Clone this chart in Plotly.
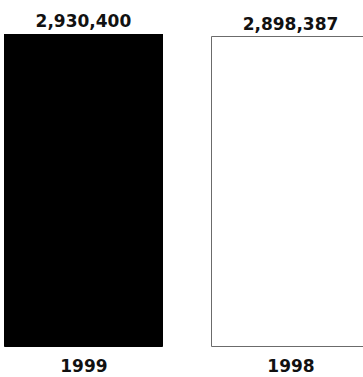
import plotly.graph_objects as go

years = ["1999", "1998"]
values = [2930400, 2898387]
labels = ["2,930,400", "2,898,387"]
fills = ["#000000", "#ffffff"]
borders = ["#000000", "#6b6b6b"]

fig = go.Figure()
fig.add_trace(go.Bar(
    x=years, y=values,
    width=0.762,
    marker=dict(color=fills, line=dict(color=borders, width=1)),
    text=labels, textposition="outside",
    textfont=dict(family="DejaVu Sans", size=17, color="#111111", weight="bold"),
    cliponaxis=False,
    hoverinfo="skip",
))
fig.update_layout(
    width=363, height=377,
    margin=dict(l=0, r=0, t=34, b=30),
    paper_bgcolor="white", plot_bgcolor="white",
    showlegend=False,
    bargap=0,
    uniformtext=dict(minsize=17, mode="show"),
)
fig.update_xaxes(
    type="category", range=[-0.4053, 1.3478],
    showgrid=False, showline=False, zeroline=False, ticks="",
    ticklabelstandoff=7,
    tickfont=dict(family="DejaVu Sans", size=17, color="#111111", weight="bold"),
)
fig.update_yaxes(
    range=[0, 2930400], visible=False, showgrid=False, zeroline=False,
)
fig.write_html("out.html")
